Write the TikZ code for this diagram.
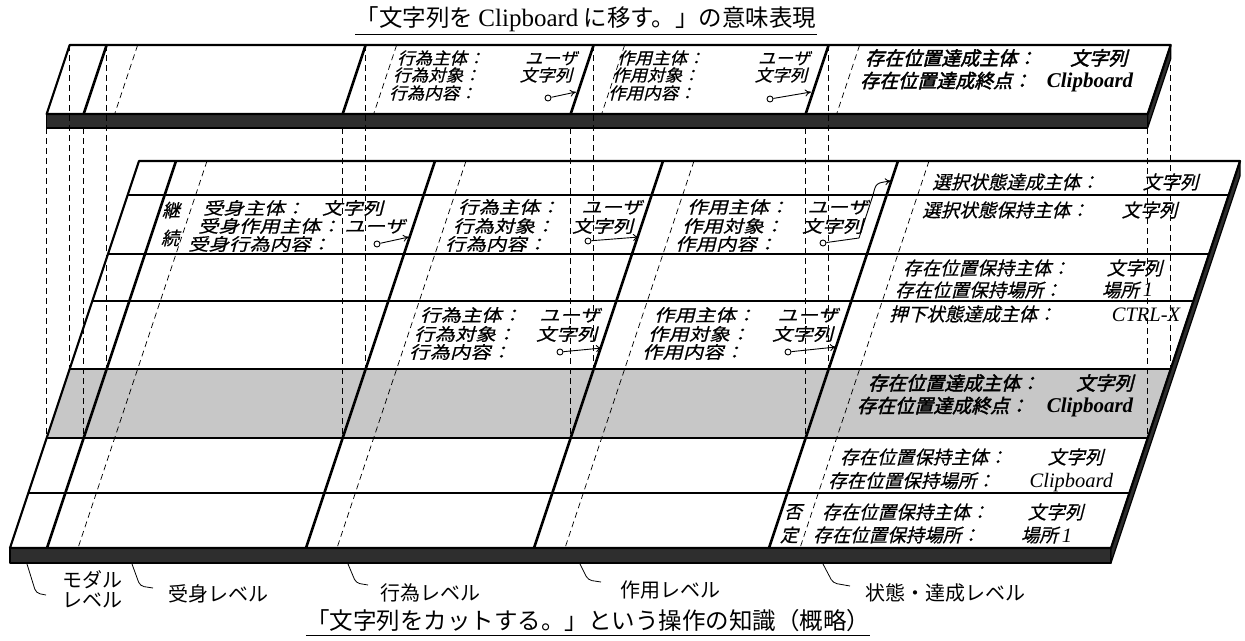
\documentclass[tikz,border=0pt]{standalone}
\usepackage{fontspec}
\setmainfont{Liberation Serif}
\newfontfamily\jp{Noto Sans CJK JP}
\newfontfamily\jpit[FakeSlant=0.25,FakeStretch=1.2,FakeBold=0.6]{Noto Sans CJK JP}
\newfontfamily\jpis[FakeSlant=0.25,FakeStretch=1.06,FakeBold=0.6]{Noto Sans CJK JP}
\newfontfamily\jpir[FakeSlant=0.25,FakeBold=0.6]{Noto Sans CJK JP}
\newfontfamily\jpbi[FakeSlant=0.25,FakeBold=2.2]{Noto Sans CJK JP}
\usetikzlibrary{arrows.meta}
\newcommand\lat[1]{{\rmfamily\itshape\fontsize{20.5}{18}\selectfont #1}}
\newcommand\blat[1]{{\rmfamily\bfseries\itshape\fontsize{21}{18}\selectfont #1}}
\tikzset{
 slab/.style={line width=2.2pt, line join=round},
 divl/.style={line width=2.6pt},
 rowl/.style={line width=2pt},
 dsh/.style={line width=0.75pt, dash pattern=on 6pt off 4pt},
 band/.style={fill=black!82, draw=black, line width=1.2pt, line join=round},
 shade/.style={fill=black!22},
 txt/.style={inner sep=0pt, anchor=west, font=\jpit\fontsize{17}{17}\selectfont},
 stxt/.style={txt, font=\jpis\fontsize{16.5}{17}\selectfont},
 rtxt/.style={txt, font=\jpir\fontsize{18.5}{18}\selectfont},
 btxt/.style={txt, font=\jpbi\fontsize{19}{19}\selectfont},
 ctxt/.style={inner sep=0pt, font=\jpir\fontsize{18}{18}\selectfont},
 lab/.style={inner sep=0pt, align=left, font=\jp\fontsize{20}{20}\selectfont},
 ttl/.style={inner sep=0pt, font=\jp\fontsize{23.5}{24}\selectfont},
 lead/.style={line width=0.8pt, rounded corners=4pt},
 ptr/.style={line width=0.9pt, -{To[length=6pt,width=7pt]}},
 dotc/.style={circle, draw, line width=0.9pt, inner sep=0pt, minimum size=6pt, fill=white},
}
\begin{document}
\begin{tikzpicture}[x=1pt,y=-1pt]
\useasboundingbox (0,0) rectangle (1245,640);

% ---------- lower slab ----------
\fill[shade] (69.67,369) -- (1170.67,369) -- (1147.67,438) -- (46.67,438) -- cycle;
\draw[band] (10,548) rectangle (1111,563);
\draw[band] (1111,548) -- (1240,161) -- (1240,176) -- (1111,563) -- cycle;
\foreach \a in {207,466,694,929}
  \draw[dsh] (\a,161) -- ({\a-129},548);
\foreach \y in {195,254,301,369,438,493}
  \draw[rowl] ({139-(\y-161)/3},\y) -- ({1240-(\y-161)/3},\y);
\foreach \a in {176,435,663,898}
  \draw[divl] (\a,161) -- ({\a-129},548);
\draw[slab] (10,548) -- (139,161) -- (1240,161) -- (1111,548) -- cycle;

% ---------- upper slab ----------
\draw[band] (46.67,114) rectangle (1147.67,128);
\draw[band] (1147.67,114) -- (1170.67,45) -- (1170.67,59) -- (1147.67,128) -- cycle;
\foreach \a in {137.67,396.67,624.67,859.67}
  \draw[dsh] (\a,45) -- ({\a-23},114);
\foreach \a in {106.67,365.67,593.67,828.67}
  \draw[divl] (\a,45) -- ({\a-23},114);
\draw[slab] (46.67,114) -- (69.67,45) -- (1170.67,45) -- (1147.67,114) -- cycle;

% ---------- vertical projection lines ----------
\foreach \a in {69.67,106.67,365.67,593.67,828.67,1170.67}
  \draw[dsh] (\a,45) -- (\a,369);
\foreach \a in {46.67,83.67,342.67,570.67,805.67,1147.67}
  \draw[dsh] (\a,128) -- (\a,438);

% ---------- titles ----------
\node[ttl] (ttop) at (586,19) {「文字列を {\rmfamily\fontsize{25}{24}\selectfont Clipboard} に移す。」の意味表現};
\draw[line width=1.3pt] ([yshift=-3pt]ttop.south west) -- ([yshift=-3pt]ttop.south east);
\node[ttl] (tbot) at (588,621) {「文字列をカットする。」という操作の知識（概略）};
\draw[line width=1.3pt] ([yshift=-3pt]tbot.south west) -- ([yshift=-3pt]tbot.south east);

% ---------- upper slab text ----------
\node[stxt] (u11) at (397,58) {\makebox[180pt][l]{行為主体：\hfill ユーザ}};
\node[stxt] (u12) at (393,75) {\makebox[179pt][l]{行為対象：\hfill 文字列}};
\node[stxt] (u13) at (389,93) {行為内容：};
\node[dotc] (u13c) at (548,98) {};
\coordinate (u13e) at (576,92);
\draw[ptr] (u13c) -- (u13e);
\node[stxt] (u21) at (617,58) {\makebox[193pt][l]{作用主体：\hfill ユーザ}};
\node[stxt] (u22) at (612,75) {\makebox[195pt][l]{作用対象：\hfill 文字列}};
\node[stxt] (u23) at (608,93) {作用内容：};
\node[dotc] (u23c) at (770,99) {};
\coordinate (u23e) at (811,92);
\draw[ptr] (u23c) -- (u23e);
\node[btxt] (u31) at (865,58) {\makebox[262pt][l]{存在位置達成主体：\hfill 文字列}};
\node[btxt] (u32) at (860,82) {\makebox[273pt][l]{存在位置達成終点：\hfill\blat{Clipboard}}};

% ---------- lower slab text ----------
\node[ctxt] (k1) at (171,210) {継};
\node[ctxt] (k2) at (170,238) {続};
\node[txt] (p1) at (203,208) {\makebox[180pt][l]{受身主体：\hfill 文字列}};
\node[txt] (p2) at (198,226) {\makebox[207pt][l]{受身作用主体：\hfill ユーザ}};
\node[txt] (p3) at (188,244) {受身行為内容：};
\node[dotc] (p3c) at (377,244) {};
\coordinate (p3e) at (409,237);
\draw[ptr] (p3c) -- (p3e);

\node[txt] (a1) at (458,207) {\makebox[184pt][l]{行為主体：\hfill ユーザ}};
\node[txt] (a2) at (453,226) {\makebox[180pt][l]{行為対象：\hfill 文字列}};
\node[txt] (a3) at (445,244) {行為内容：};
\node[dotc] (a3c) at (588,241) {};
\coordinate (a3e) at (639,237);
\draw[ptr] (a3c) -- (a3e);

\node[txt] (s1) at (687,207) {\makebox[181pt][l]{作用主体：\hfill ユーザ}};
\node[txt] (s2) at (682,226) {\makebox[181pt][l]{作用対象：\hfill 文字列}};
\node[txt] (s3) at (675,244) {作用内容：};
\node[dotc] (s3c) at (823,243) {};
\coordinate (s3e) at (891,181);
\draw[ptr] (s3c) -- (859,238) -- (873,195) .. controls (876,183) .. (s3e);

\node[txt] (b1) at (420,315) {\makebox[180pt][l]{行為主体：\hfill ユーザ}};
\node[txt] (b2) at (414,334) {\makebox[183pt][l]{行為対象：\hfill 文字列}};
\node[txt] (b3) at (409,352) {行為内容：};
\node[dotc] (b3c) at (560,352) {};
\coordinate (b3e) at (602,348);
\draw[ptr] (b3c) -- (b3e);

\node[txt] (c1) at (654,315) {\makebox[184pt][l]{作用主体：\hfill ユーザ}};
\node[txt] (c2) at (648,334) {\makebox[185pt][l]{作用対象：\hfill 文字列}};
\node[txt] (c3) at (642,352) {作用内容：};
\node[dotc] (c3c) at (788,352) {};
\coordinate (c3e) at (836,347);
\draw[ptr] (c3c) -- (c3e);

\node[rtxt] (r1) at (932,182) {\makebox[266pt][l]{選択状態達成主体：\hfill 文字列}};
\node[rtxt] (r2) at (922,210) {\makebox[255pt][l]{選択状態保持主体：\hfill 文字列}};
\node[rtxt] (r3) at (903,268) {\makebox[259pt][l]{存在位置保持主体：\hfill 文字列}};
\node[rtxt] (r4) at (895,290) {\makebox[258pt][l]{存在位置保持場所：\hfill 場所 \lat{1}}};
\node[rtxt] (r5) at (889,314) {\makebox[291pt][l]{押下状態達成主体：\hfill\lat{CTRL-X}}};
\node[btxt] (r6) at (868,383) {\makebox[265pt][l]{存在位置達成主体：\hfill 文字列}};
\node[btxt] (r7) at (857,407) {\makebox[276pt][l]{存在位置達成終点：\hfill\blat{Clipboard}}};
\node[rtxt] (r8) at (840,457) {\makebox[263pt][l]{存在位置保持主体：\hfill 文字列}};
\node[rtxt] (r9) at (828,482) {\makebox[285pt][l]{存在位置保持場所：\hfill\lat{Clipboard}}};
\node[ctxt] (n1) at (793,512) {否};
\node[ctxt] (n2) at (789,535) {定};
\node[rtxt] (r10) at (822,512) {\makebox[261pt][l]{存在位置保持主体：\hfill 文字列}};
\node[rtxt] (r11) at (813,535) {\makebox[259pt][l]{存在位置保持場所：\hfill 場所 \lat{1}}};

% ---------- level labels ----------
\coordinate (m0) at (27,564); \coordinate (m1) at (36,593); \coordinate (m2) at (46,595);
\draw[lead] (m0) -- (m1) -- (m2);
\node[lab, anchor=west] (ml) at (62,589) {モダル\\レベル};
\coordinate (j0) at (132,564); \coordinate (j1) at (140,586); \coordinate (j2) at (153,588);
\draw[lead] (j0) -- (j1) -- (j2);
\node[lab, anchor=west] (jl) at (168,594) {受身レベル};
\coordinate (g0) at (348,564); \coordinate (g1) at (356,583); \coordinate (g2) at (368,585);
\draw[lead] (g0) -- (g1) -- (g2);
\node[lab, anchor=west] (gl) at (380,593) {行為レベル};
\coordinate (y0) at (580,564); \coordinate (y1) at (588,580); \coordinate (y2) at (601,582);
\draw[lead] (y0) -- (y1) -- (y2);
\node[lab, anchor=west] (yl) at (620,590) {作用レベル};
\coordinate (z0) at (823,564); \coordinate (z1) at (833,583); \coordinate (z2) at (850,586);
\draw[lead] (z0) -- (z1) -- (z2);
\node[lab, anchor=west] (zl) at (865,593) {状態・達成レベル};
\end{tikzpicture}
\end{document}
